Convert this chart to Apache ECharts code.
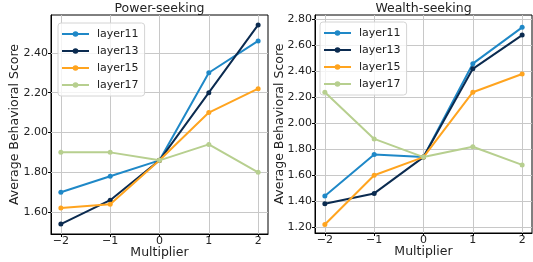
<!DOCTYPE html>
<html>
<head>
<meta charset="utf-8">
<script src="https://cdn.jsdelivr.net/npm/echarts@6/dist/echarts.min.js"></script>
<style>
  html, body { margin: 0; padding: 0; background: #fff; }
  #chart { width: 533px; height: 262px; }
</style>
</head>
<body>
<div id="chart"></div>
<script>
  // data
  const multipliers = [-2, -1, 0, 1, 2];
  const layers = ["layer11", "layer13", "layer15", "layer17"];
  const colors = ["#1f88c7", "#0b2b50", "#ffa41f", "#b7cf8f"];

  const powerLayer11 = [1.70, 1.78, 1.86, 2.30, 2.46];
  const powerLayer13 = [1.54, 1.66, 1.86, 2.20, 2.54];
  const powerLayer15 = [1.62, 1.64, 1.86, 2.10, 2.22];
  const powerLayer17 = [1.90, 1.90, 1.86, 1.94, 1.80];

  const wealthLayer11 = [1.44, 1.76, 1.74, 2.46, 2.74];
  const wealthLayer13 = [1.38, 1.46, 1.74, 2.42, 2.68];
  const wealthLayer15 = [1.22, 1.60, 1.74, 2.24, 2.38];
  const wealthLayer17 = [2.24, 1.88, 1.74, 1.82, 1.68];

  const xTicks = [-2, -1, 0, 1, 2];
  const powerTicks = [1.6, 1.8, 2.0, 2.2, 2.4];
  const wealthTicks = [1.2, 1.4, 1.6, 1.8, 2.0, 2.2, 2.4, 2.6, 2.8];

  const font = "DejaVu Sans";
  const gridColor = "#c8c8c8";
  const chart = echarts.init(document.getElementById("chart"));

  const fmtX = v => (v < 0 ? "\u2212" + (-v) : String(v));

  function xAxis(gridIndex) {
    return {
      type: "value", gridIndex, min: -2.2, max: 2.2,
      name: "Multiplier", nameLocation: "middle", nameGap: 12, nameMoveOverlap: false,
      nameTextStyle: { fontFamily: font, fontSize: 12.5, color: "#222" },
      axisLine: { onZero: false, lineStyle: { color: "#000", width: 1 } },
      axisTick: { show: true, length: 3, customValues: xTicks, lineStyle: { color: "#000" } },
      axisLabel: { customValues: xTicks, formatter: fmtX, margin: 2, fontFamily: font, fontSize: 11, color: "#222" },
      splitLine: { show: false }
    };
  }

  function yAxis(gridIndex, min, max, ticks, gap) {
    return {
      type: "value", gridIndex, min, max,
      name: "Average Behavioral Score", nameLocation: "middle", nameGap: gap, nameMoveOverlap: false,
      nameTextStyle: { fontFamily: font, fontSize: 12.5, color: "#222" },
      axisLine: { show: true, onZero: false, lineStyle: { color: "#000", width: 1 } },
      axisTick: { show: true, length: 3, customValues: ticks, lineStyle: { color: "#000" } },
      axisLabel: { customValues: ticks, formatter: v => v.toFixed(2), margin: 3, fontFamily: font, fontSize: 11, color: "#222" },
      splitLine: { show: false }
    };
  }

  function legend(left, top, series) {
    return {
      orient: "vertical", left, top,
      data: series,
      itemWidth: 27, itemHeight: 7, itemGap: 5,
      padding: [5, 6, 5, 3],
      borderColor: "#d4d4d4", borderWidth: 1, borderRadius: 3,
      backgroundColor: "rgba(255,255,255,0.8)",
      textStyle: { fontFamily: font, fontSize: 11, color: "#222", lineHeight: 12, padding: [0, 0, 0, 3] }
    };
  }

  // grid lines drawn at the tick values, below the data lines
  function gridMarkLine(yTicks) {
    return {
      silent: true, symbol: "none", animation: false, z: 1,
      label: { show: false },
      emphasis: { disabled: true },
      lineStyle: { color: gridColor, width: 1, type: "solid" },
      data: [...xTicks.map(v => ({ xAxis: v })), ...yTicks.map(v => ({ yAxis: v }))]
    };
  }

  function line(name, values, idx, gridIdx, yTicks) {
    const s = {
      name, type: "line",
      xAxisIndex: gridIdx, yAxisIndex: gridIdx,
      data: multipliers.map((m, i) => [m, values[i]]),
      symbol: "circle", symbolSize: 5,
      lineStyle: { width: 2, color: colors[idx] },
      itemStyle: { color: colors[idx] },
      z: 2 + idx
    };
    if (idx === 0) s.markLine = gridMarkLine(yTicks);
    return s;
  }

  const powerSeries = [powerLayer11, powerLayer13, powerLayer15, powerLayer17];
  const wealthSeries = [wealthLayer11, wealthLayer13, wealthLayer15, wealthLayer17];

  chart.setOption({
    animation: false,
    title: [
      { text: "Power-seeking", left: 159.5, top: 2, padding: 0, textAlign: "center",
        textStyle: { fontFamily: font, fontSize: 12.5, fontWeight: "normal", color: "#222" } },
      { text: "Wealth-seeking", left: 423.5, top: 2, padding: 0, textAlign: "center",
        textStyle: { fontFamily: font, fontSize: 12.5, fontWeight: "normal", color: "#222" } }
    ],
    grid: [
      { left: 51, right: 265, top: 15, bottom: 28, outerBoundsMode: "none", containLabel: false,
        show: true, borderColor: "#000", borderWidth: 1 },
      { left: 315, right: 1, top: 15, bottom: 29, outerBoundsMode: "none", containLabel: false,
        show: true, borderColor: "#000", borderWidth: 1 }
    ],
    legend: [legend(58, 23, layers), legend(320, 22, layers)],
    xAxis: [xAxis(0), xAxis(1)],
    yAxis: [yAxis(0, 1.49, 2.59, powerTicks, 30), yAxis(1, 1.155, 2.835, wealthTicks, 29)],
    series: [
      ...powerSeries.map((v, i) => line(layers[i], v, i, 0, powerTicks)),
      ...wealthSeries.map((v, i) => line(layers[i], v, i, 1, wealthTicks))
    ]
  });
</script>
</body>
</html>
